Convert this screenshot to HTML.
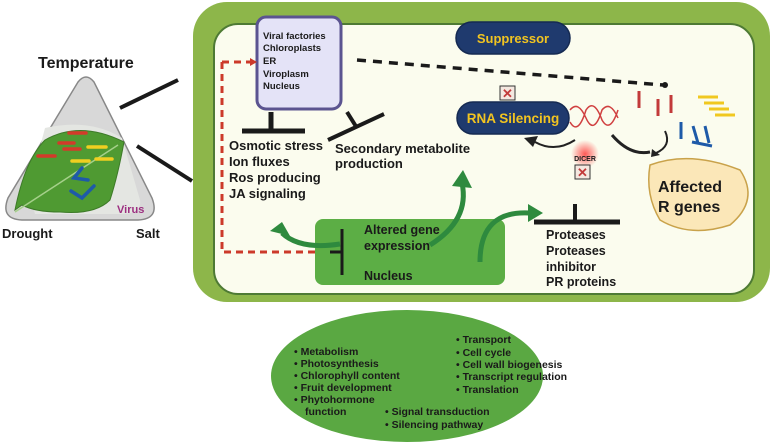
<!DOCTYPE html>
<html><head><style>
html,body{margin:0;padding:0;background:#fff;}
svg{display:block;}
text{font-family:"Liberation Sans",sans-serif;font-weight:bold;fill:#1a1a1a;}
</style></head><body>
<svg width="776" height="443" viewBox="0 0 776 443" xmlns="http://www.w3.org/2000/svg">
<defs>
<radialGradient id="glow"><stop offset="0" stop-color="#ff3030" stop-opacity="0.8"/><stop offset="1" stop-color="#ff3030" stop-opacity="0"/></radialGradient>
</defs>
<rect x="193" y="2" width="577" height="300" rx="34" fill="#8db64a"/>
<rect x="214" y="24" width="540" height="270" rx="24" fill="#fbfcee" stroke="#4e7a34" stroke-width="2"/>

<!-- left triangle -->
<path d="M78 82 Q86 72 94 82 L152 198 Q160 219 138 220 L22 220 Q0 219 8 198 Z" fill="#d8d8d8" stroke="#888" stroke-width="1.5"/>
<path d="M45 128 Q90 118 122 138 L140 200 Q142 214 122 214 L35 214 Q28 190 45 128 Z" fill="#e4e6e2"/>
<path d="M15 210 Q25 160 45 140 Q80 120 124 142 Q118 175 110 200 Q95 215 60 212 Q35 212 22 205 Z" fill="#4f9a32" stroke="#3d7a28" stroke-width="1"/>
<line x1="15" y1="212" x2="118" y2="145" stroke="#a5d08a" stroke-width="1.5"/>
<g stroke-width="3.5" stroke-linecap="round">
<line x1="69" y1="133" x2="86" y2="133" stroke="#d33a2a"/>
<line x1="59" y1="143" x2="74" y2="143" stroke="#d33a2a"/>
<line x1="64" y1="149" x2="80" y2="149" stroke="#d33a2a"/>
<line x1="38" y1="156" x2="55" y2="156" stroke="#d33a2a"/>
<line x1="88" y1="147" x2="106" y2="147" stroke="#f0cf20"/>
<line x1="72" y1="161" x2="89" y2="161" stroke="#f0cf20"/>
<line x1="96" y1="159" x2="112" y2="159" stroke="#f0cf20"/>
<path d="M82 168 L74 178 L88 180" fill="none" stroke="#1e5aa8"/>
<path d="M71 191 L82 198 L94 186" fill="none" stroke="#1e5aa8"/>
</g>
<text x="117" y="213" font-size="11" style="fill:#9c2f80">Virus</text>
<text x="38" y="68" font-size="16">Temperature</text>
<text x="2" y="238" font-size="13">Drought</text>
<text x="136" y="238" font-size="13">Salt</text>
<line x1="120" y1="108" x2="178" y2="80" stroke="#1a1a1a" stroke-width="4"/>
<line x1="137" y1="146" x2="192" y2="181" stroke="#1a1a1a" stroke-width="4"/>

<rect x="257" y="17" width="84" height="92" rx="9" fill="#e4e3f7" stroke="#5b5490" stroke-width="3"/>
<g font-size="9.5"><text x="263" y="39">Viral factories</text><text x="263" y="51">Chloroplasts</text><text x="263" y="64">ER</text><text x="263" y="77">Viroplasm</text><text x="263" y="89">Nucleus</text></g>
<line x1="271" y1="112" x2="271" y2="131" stroke="#1a1a1a" stroke-width="5"/>
<line x1="242" y1="131" x2="305" y2="131" stroke="#1a1a1a" stroke-width="5"/>
<line x1="328" y1="140" x2="384" y2="114" stroke="#1a1a1a" stroke-width="4"/>
<line x1="347" y1="112" x2="357" y2="128" stroke="#1a1a1a" stroke-width="4"/>
<g font-size="13"><text x="229" y="150">Osmotic stress</text><text x="229" y="166">Ion fluxes</text><text x="229" y="182">Ros producing</text><text x="229" y="198">JA signaling</text>
<text x="335" y="153">Secondary metabolite</text><text x="335" y="168">production</text></g>

<path d="M222 62 L222 252 L328 252" fill="none" stroke="#cc3a2a" stroke-width="3" stroke-dasharray="7 5"/>
<path d="M222 62 L250 62" fill="none" stroke="#cc3a2a" stroke-width="3" stroke-dasharray="7 5"/>
<polygon points="250,58 257,62 250,66" fill="#cc3a2a"/>
<line x1="357" y1="60" x2="663" y2="85" stroke="#1a1a1a" stroke-width="3.5" stroke-dasharray="9 7"/>
<circle cx="665" cy="85" r="3" fill="#1a1a1a"/>

<rect x="315" y="219" width="190" height="66" rx="8" fill="#5cae45"/>
<line x1="342" y1="229" x2="342" y2="275" stroke="#1a1a1a" stroke-width="3"/>
<line x1="330" y1="252" x2="342" y2="252" stroke="#1a1a1a" stroke-width="3"/>
<g font-size="12.5"><text x="364" y="234">Altered gene</text><text x="364" y="250">expression</text><text x="364" y="280">Nucleus</text></g>
<g fill="none" stroke="#2e8a3e" stroke-width="5">
<path d="M340 244 Q300 250 282 233"/>
<path d="M430 245 Q470 220 462 183"/>
<path d="M480 262 Q480 210 530 213"/>
</g>
<polygon points="270,231 282,222 290,236" fill="#2e8a3e"/>
<polygon points="452,186 463,170 472,188" fill="#2e8a3e"/>
<polygon points="528,204 543,213 528,222" fill="#2e8a3e"/>

<line x1="575" y1="204" x2="575" y2="222" stroke="#1a1a1a" stroke-width="4"/>
<line x1="534" y1="222" x2="620" y2="222" stroke="#1a1a1a" stroke-width="5"/>
<g font-size="12.5"><text x="546" y="239">Proteases</text><text x="546" y="255">Proteases</text><text x="546" y="271">inhibitor</text><text x="546" y="286">PR proteins</text></g>

<rect x="456" y="22" width="114" height="32" rx="16" fill="#1f3a6e" stroke="#152a52" stroke-width="1.5"/>
<text x="513" y="43" font-size="13" text-anchor="middle" style="fill:#f2c420">Suppressor</text>
<rect x="457" y="102" width="112" height="32" rx="16" fill="#1f3a6e" stroke="#152a52" stroke-width="1.5"/>
<text x="513" y="123" font-size="13.5" text-anchor="middle" style="fill:#f2c420">RNA Silencing</text>
<rect x="500" y="86" width="15" height="14" fill="#f4e8e0" stroke="#333" stroke-width="1"/>
<text x="507.5" y="98" font-size="13" text-anchor="middle" style="fill:#c23a3a">✕</text>
<path d="M570 110 Q578 100 586 118 Q594 136 602 110 Q610 100 618 118" fill="none" stroke="#d04040" stroke-width="1.5"/>
<path d="M570 122 Q578 136 586 110 Q594 98 602 120 Q610 134 618 110" fill="none" stroke="#d04040" stroke-width="1.5"/>
<circle cx="585" cy="154" r="14" fill="url(#glow)"/>
<text x="585" y="161" font-size="7" text-anchor="middle">DICER</text>
<rect x="575" y="165" width="15" height="14" fill="#f4e8e0" stroke="#333" stroke-width="1"/>
<text x="582.5" y="177" font-size="13" text-anchor="middle" style="fill:#c23a3a">✕</text>
<path d="M575 140 Q555 153 535 142" fill="none" stroke="#222" stroke-width="2"/>
<polygon points="524,138 538,136 533,147" fill="#222"/>
<path d="M612 135 Q630 156 650 152" fill="none" stroke="#222" stroke-width="3"/>
<path d="M665 131 Q672 146 656 153" fill="none" stroke="#222" stroke-width="2"/>
<polygon points="652,149 660,155 651,157" fill="#222"/>
<g stroke-width="3">
<line x1="639" y1="91" x2="639" y2="108" stroke="#c23a3a"/>
<line x1="658" y1="99" x2="658" y2="116" stroke="#c23a3a"/>
<line x1="671" y1="95" x2="671" y2="113" stroke="#c23a3a"/>
<line x1="698" y1="97" x2="718" y2="97" stroke="#f0c820"/>
<line x1="704" y1="103" x2="724" y2="103" stroke="#f0c820"/>
<line x1="709" y1="109" x2="729" y2="109" stroke="#f0c820"/>
<line x1="715" y1="115" x2="735" y2="115" stroke="#f0c820"/>
<line x1="681" y1="122" x2="681" y2="139" stroke="#1e5aa8"/>
<path d="M693 126 L698 143 M705 126 L709 143 M692 142 L712 146" stroke="#1e5aa8" fill="none"/>
</g>
<path d="M650 165 Q690 150 740 170 Q760 200 730 225 Q690 238 660 220 Q645 195 650 165 Z" fill="#fbe7b8" stroke="#c9a24a" stroke-width="1.5"/>
<text x="658" y="192" font-size="16">Affected</text>
<text x="658" y="212" font-size="16">R genes</text>

<ellipse cx="407" cy="376" rx="136" ry="66" fill="#5aa842"/>
<g font-size="10.5">
<text x="294" y="355">•  Metabolism</text>
<text x="294" y="367">•   Photosynthesis</text>
<text x="294" y="379">•  Chlorophyll content</text>
<text x="294" y="391">•   Fruit development</text>
<text x="294" y="403">•  Phytohormone</text>
<text x="305" y="415">function</text>
<text x="385" y="415">•  Signal transduction</text>
<text x="385" y="428">•  Silencing pathway</text>
<text x="456" y="343">•  Transport</text>
<text x="456" y="356">•  Cell cycle</text>
<text x="456" y="368">•  Cell wall biogenesis</text>
<text x="456" y="380">•  Transcript regulation</text>
<text x="456" y="393">•  Translation</text>
</g>
</svg>
</body></html>
